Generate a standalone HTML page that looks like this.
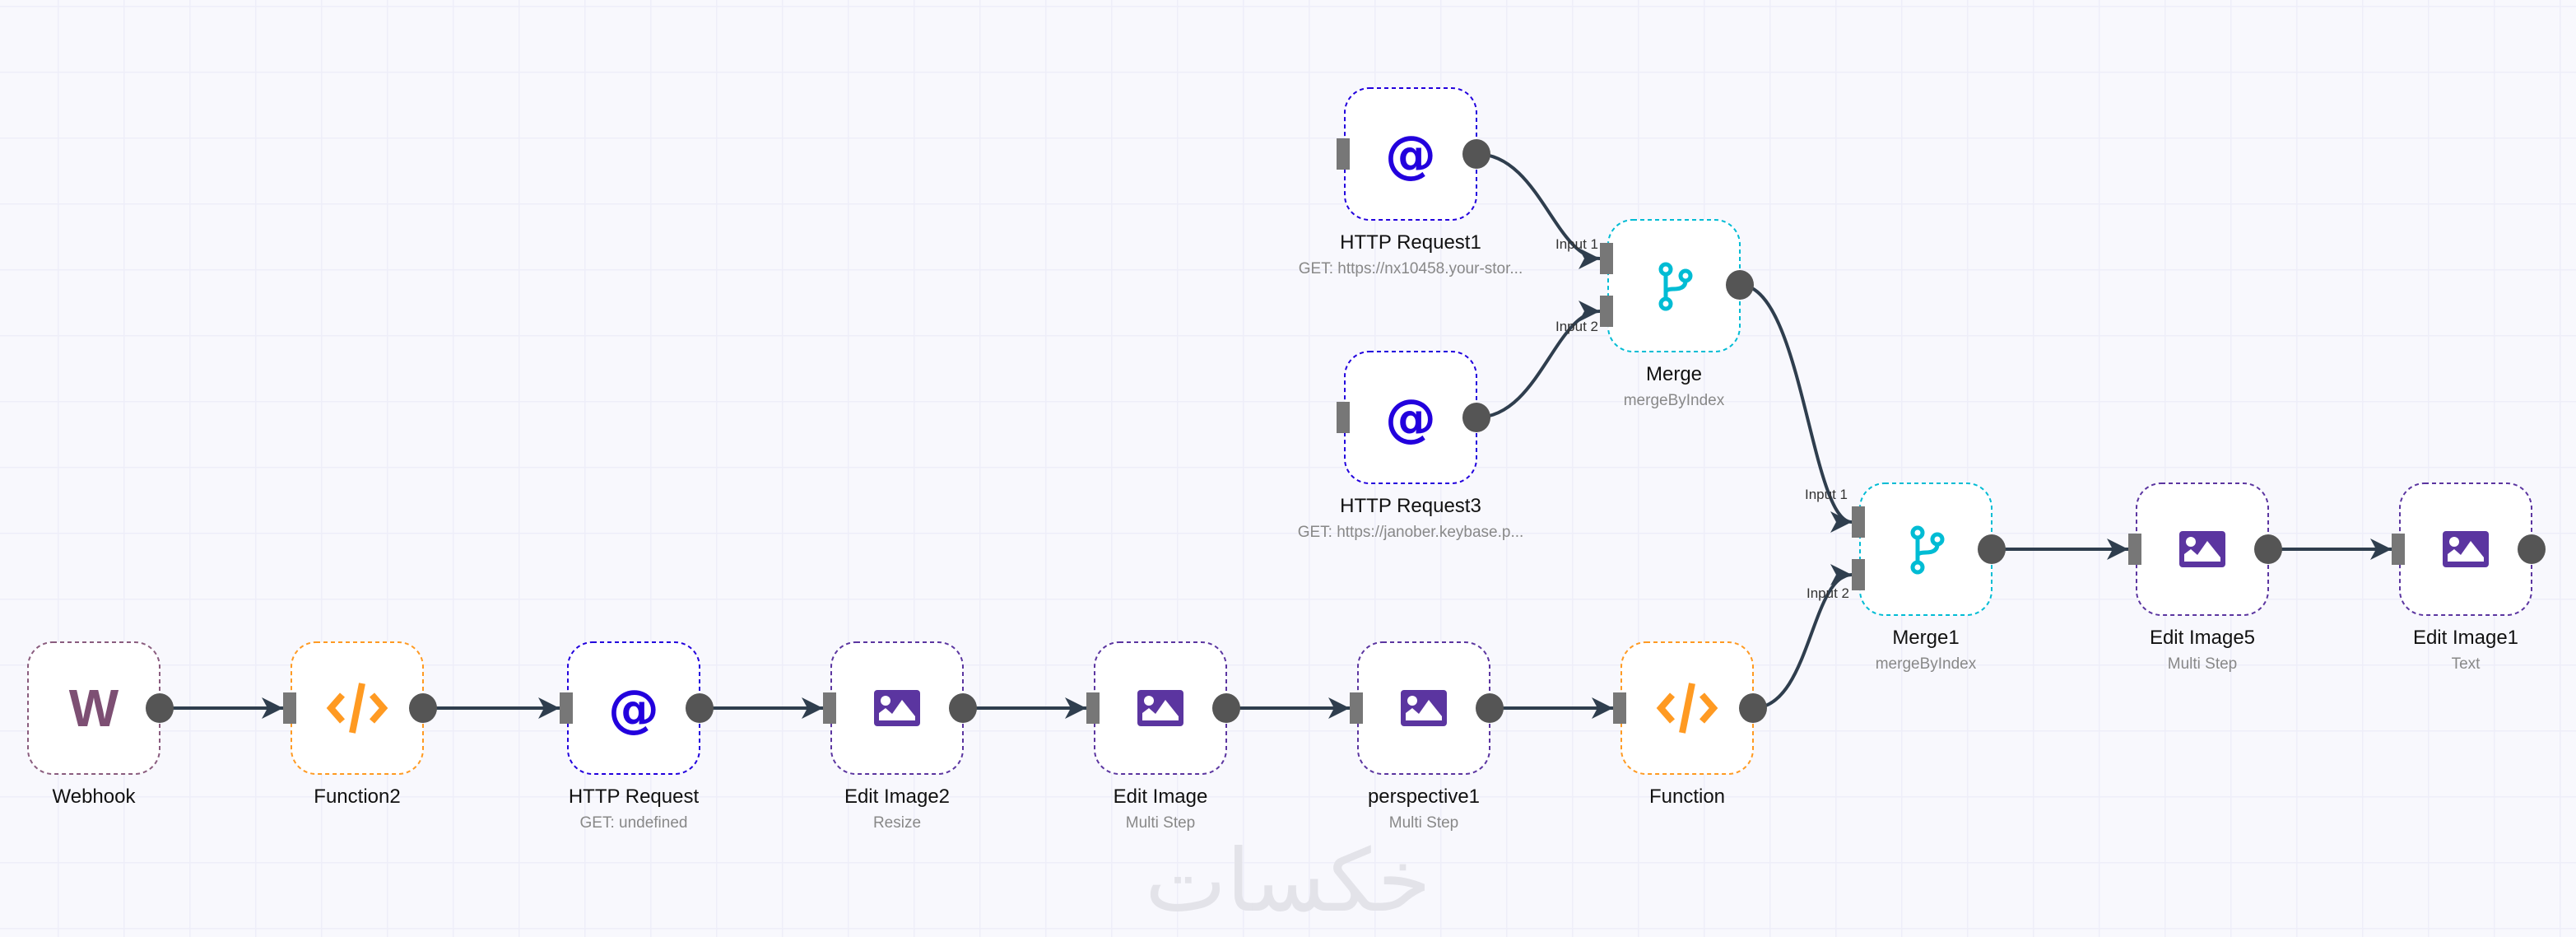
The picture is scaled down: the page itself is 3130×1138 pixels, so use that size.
<!DOCTYPE html>
<html><head><meta charset="utf-8"><style>
html,body{margin:0;padding:0;background:#f8f8fd;}
svg{display:block}
text{font-family:"Liberation Sans",sans-serif}
</style></head><body>
<svg width="3130" height="1138" viewBox="0 0 3130 1138" xmlns="http://www.w3.org/2000/svg">
<defs>
<pattern id="grid" x="70" y="7" width="80" height="80" patternUnits="userSpaceOnUse">
<path d="M0 0V80M0 0H80" stroke="#eeeef9" stroke-width="3" fill="none"/>
</pattern>
<marker id="arr" markerUnits="userSpaceOnUse" markerWidth="30" markerHeight="30" refX="26" refY="13" orient="auto">
<path d="M0,0 L26,13 L0,26 L7,13 Z" fill="#2f3e4e"/>
</marker>
<g id="img"><rect x="-28" y="-22" width="56" height="44" rx="4" fill="#5b35a0"/><circle cx="-14" cy="-9" r="6" fill="#fff"/><path d="M-22,15 L-22,6 L-14,0 L-6,7 L6,-10 L22,10 L22,15 Z" fill="#fff"/></g>
<g id="at"><text x="0" y="22" text-anchor="middle" font-size="62" font-weight="bold" fill="#2200dd" style="font-family:'DejaVu Sans',sans-serif">@</text></g>
<g id="code"><path d="M-18,-16 L-32,0 L-18,16 M18,-16 L32,0 L18,16" stroke="#ff9a22" stroke-width="8" fill="none"/><path d="M6,-30 L-6,30" stroke="#ff9a22" stroke-width="8"/></g>
<g id="merge" fill="none" stroke="#00bcd4" stroke-width="5"><circle cx="-10" cy="-20" r="6"/><circle cx="14" cy="-12" r="6"/><circle cx="-10" cy="22" r="6"/><path d="M-10,-14 V16 M-10,8 Q-10,4 0,4 Q14,4 14,-6"/></g>
</defs>
<rect width="3130" height="1138" fill="#f8f8fd"/>
<rect width="3130" height="1138" fill="url(#grid)"/>

<text x="1565" y="1106" text-anchor="middle" font-size="105" fill="#e3e3e9" style="font-family:'DejaVu Sans',sans-serif">خکسات</text>

<g stroke="#2f3e4e" stroke-width="4" fill="none" marker-end="url(#arr)">
<path d="M194,860 H344"/>
<path d="M514,860 H680"/>
<path d="M850,860 H1000"/>
<path d="M1170,860 H1320"/>
<path d="M1490,860 H1640"/>
<path d="M1810,860 H1960"/>
<path d="M1794,187 C1870,187 1890,314 1944,314"/>
<path d="M1794,507 C1870,507 1890,378 1944,378"/>
<path d="M2114,346 C2190,346 2200,634 2250,634"/>
<path d="M2130,860 C2200,860 2200,698 2250,698"/>
<path d="M2420,667 H2586"/>
<path d="M2756,667 H2906"/>
</g>

<g fill="#fff" stroke-width="2" stroke-dasharray="5,4">
<rect x="34" y="780" width="160" height="160" rx="30" stroke="#8a5c7e"/>
<rect x="354" y="780" width="160" height="160" rx="30" stroke="#ff9a22"/>
<rect x="690" y="780" width="160" height="160" rx="30" stroke="#2200dd"/>
<rect x="1010" y="780" width="160" height="160" rx="30" stroke="#5b35a0"/>
<rect x="1330" y="780" width="160" height="160" rx="30" stroke="#5b35a0"/>
<rect x="1650" y="780" width="160" height="160" rx="30" stroke="#5b35a0"/>
<rect x="1970" y="780" width="160" height="160" rx="30" stroke="#ff9a22"/>
<rect x="1634" y="107" width="160" height="160" rx="30" stroke="#2200dd"/>
<rect x="1634" y="427" width="160" height="160" rx="30" stroke="#2200dd"/>
<rect x="1954" y="267" width="160" height="160" rx="30" stroke="#00bcd4"/>
<rect x="2260" y="587" width="160" height="160" rx="30" stroke="#00bcd4"/>
<rect x="2596" y="587" width="160" height="160" rx="30" stroke="#5b35a0"/>
<rect x="2916" y="587" width="160" height="160" rx="30" stroke="#5b35a0"/>
</g>

<text x="114" y="882" text-anchor="middle" font-size="64" font-weight="bold" fill="#7d4f73">W</text>
<use href="#code" x="434" y="860"/>
<use href="#at" x="770" y="860"/>
<use href="#img" x="1090" y="860"/>
<use href="#img" x="1410" y="860"/>
<use href="#img" x="1730" y="860"/>
<use href="#code" x="2050" y="860"/>
<use href="#at" x="1714" y="187"/>
<use href="#at" x="1714" y="507"/>
<use href="#merge" x="2034" y="347"/>
<use href="#merge" x="2340" y="667"/>
<use href="#img" x="2676" y="667"/>
<use href="#img" x="2996" y="667"/>

<g fill="#777">
<rect x="344" y="841" width="16" height="38"/>
<rect x="680" y="841" width="16" height="38"/>
<rect x="1000" y="841" width="16" height="38"/>
<rect x="1320" y="841" width="16" height="38"/>
<rect x="1640" y="841" width="16" height="38"/>
<rect x="1960" y="841" width="16" height="38"/>
<rect x="1624" y="168" width="16" height="38"/>
<rect x="1624" y="488" width="16" height="38"/>
<rect x="1944" y="295" width="16" height="38"/>
<rect x="1944" y="359" width="16" height="38"/>
<rect x="2250" y="615" width="16" height="38"/>
<rect x="2250" y="679" width="16" height="38"/>
<rect x="2586" y="648" width="16" height="38"/>
<rect x="2906" y="648" width="16" height="38"/>
</g>
<g fill="#555">
<ellipse cx="194" cy="860" rx="17" ry="18"/>
<ellipse cx="514" cy="860" rx="17" ry="18"/>
<ellipse cx="850" cy="860" rx="17" ry="18"/>
<ellipse cx="1170" cy="860" rx="17" ry="18"/>
<ellipse cx="1490" cy="860" rx="17" ry="18"/>
<ellipse cx="1810" cy="860" rx="17" ry="18"/>
<ellipse cx="2130" cy="860" rx="17" ry="18"/>
<ellipse cx="1794" cy="187" rx="17" ry="18"/>
<ellipse cx="1794" cy="507" rx="17" ry="18"/>
<ellipse cx="2114" cy="346" rx="17" ry="18"/>
<ellipse cx="2420" cy="667" rx="17" ry="18"/>
<ellipse cx="2756" cy="667" rx="17" ry="18"/>
<ellipse cx="3076" cy="667" rx="17" ry="18"/>
</g>

<g font-size="17" fill="#333">
<text x="1890" y="302">Input 1</text>
<text x="1890" y="402">Input 2</text>
<text x="2193" y="606">Input 1</text>
<text x="2195" y="726">Input 2</text>
</g>

<g font-size="24" fill="#111" text-anchor="middle">
<text x="114" y="975">Webhook</text>
<text x="434" y="975">Function2</text>
<text x="770" y="975">HTTP Request</text>
<text x="1090" y="975">Edit Image2</text>
<text x="1410" y="975">Edit Image</text>
<text x="1730" y="975">perspective1</text>
<text x="2050" y="975">Function</text>
<text x="1714" y="302">HTTP Request1</text>
<text x="1714" y="622">HTTP Request3</text>
<text x="2034" y="462">Merge</text>
<text x="2340" y="782">Merge1</text>
<text x="2676" y="782">Edit Image5</text>
<text x="2996" y="782">Edit Image1</text>
</g>
<g font-size="19" fill="#888" text-anchor="middle">
<text x="770" y="1005">GET: undefined</text>
<text x="1090" y="1005">Resize</text>
<text x="1410" y="1005">Multi Step</text>
<text x="1730" y="1005">Multi Step</text>
<text x="1714" y="332">GET: https://nx10458.your-stor...</text>
<text x="1714" y="652">GET: https://janober.keybase.p...</text>
<text x="2034" y="492">mergeByIndex</text>
<text x="2340" y="812">mergeByIndex</text>
<text x="2676" y="812">Multi Step</text>
<text x="2996" y="812">Text</text>
</g>
</svg>
</body></html>
